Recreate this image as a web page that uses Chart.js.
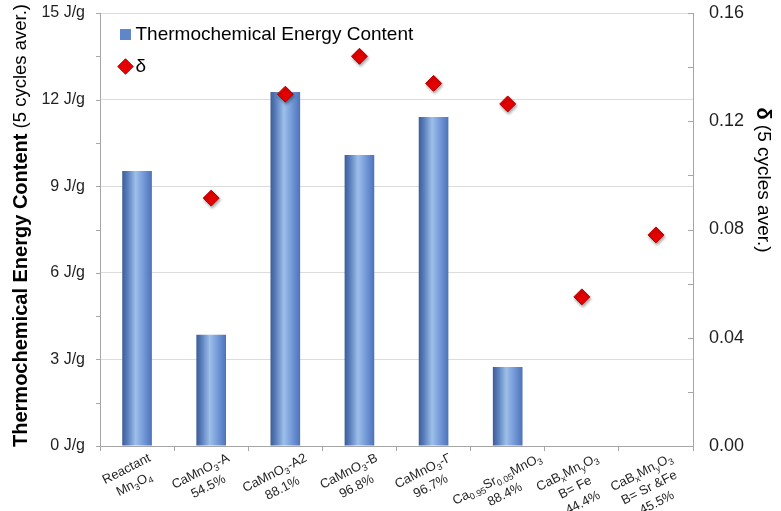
<!DOCTYPE html>
<html>
<head>
<meta charset="utf-8">
<script src="https://cdn.jsdelivr.net/npm/chart.js@4.4.1/dist/chart.umd.min.js"></script>
<style>
  html, body { margin: 0; padding: 0; background: #ffffff; }
  #wrap { width: 781px; height: 511px; }
</style>
</head>
<body>
<div id="wrap"><canvas id="chart" width="781" height="511"></canvas></div>
<script>
// Samples (name + conversion); "_{..}" marks a subscript
const categories = [
  ['Reactant', 'Mn_{3}O_{4}'],
  ['CaMnO_{3}-A', '54.5%'],
  ['CaMnO_{3}-A2', '88.1%'],
  ['CaMnO_{3}-B', '96.8%'],
  ['CaMnO_{3}-\u0393', '96.7%'],
  ['Ca_{0.95}Sr_{0.05}MnO_{3}', '88.4%'],
  ['CaB_{x}Mn_{y}O_{3}', 'B= Fe', '44.4%'],
  ['CaB_{x}Mn_{y}O_{3}', 'B= Sr &Fe', '45.5%']
];
// Thermochemical energy content, J/g (5 cycles average)
const energyContent = [9.53, 3.85, 12.26, 10.08, 11.40, 2.74, null, null];
// Oxygen non-stoichiometry delta (5 cycles average)
const deltaValues = [null, 0.0916, 0.130, 0.144, 0.134, 0.1264, 0.0551, 0.078];
const energyTicks = [0, 3, 6, 9, 12, 15];
const deltaTicks = [0, 0.04, 0.08, 0.12, 0.16];

const FONT = 'Arial, "Liberation Sans", Helvetica, sans-serif';
const AXIS_GRAY = '#a6a6a6';
const TEXT = '#1f1f1f';
const BAR_PCT = 0.4;

// cylinder-like horizontal shading for each column
function barFill(ctx) {
  const chart = ctx.chart;
  const xs = chart.scales.x;
  if (!chart.chartArea || !xs || ctx.type !== 'data') return '#5b80c0';
  const cx = xs.getPixelForValue(ctx.dataIndex);
  const half = (xs.width / categories.length) * BAR_PCT / 2;
  const g = chart.ctx.createLinearGradient(cx - half, 0, cx + half, 0);
  g.addColorStop(0, '#3c5c96');
  g.addColorStop(0.18, '#5a7fbd');
  g.addColorStop(0.45, '#9dbfe9');
  g.addColorStop(0.75, '#6f95d5');
  g.addColorStop(1, '#4d72b9');
  return g;
}

// soft drop shadow under the delta diamonds
const markerShadow = {
  id: 'markerShadow',
  beforeDatasetDraw(chart, args) {
    if (args.index !== 1) return;
    const c = chart.ctx;
    c.save();
    c.shadowColor = 'rgba(0,0,0,0.35)';
    c.shadowBlur = 3;
    c.shadowOffsetX = 1;
    c.shadowOffsetY = 2;
  },
  afterDatasetDraw(chart, args) {
    if (args.index !== 1) return;
    chart.ctx.restore();
  }
};

// small major/minor tick marks on both value axes
const valueAxisTicks = {
  id: 'valueAxisTicks',
  afterDraw(chart) {
    const c = chart.ctx;
    const y = chart.scales.y, y1 = chart.scales.y1;
    c.save();
    c.strokeStyle = AXIS_GRAY;
    c.lineWidth = 1;
    c.beginPath();
    for (let v = 0; v <= 15.0001; v += 1.5) {
      const py = Math.round(y.getPixelForValue(v)) + 0.5;
      c.moveTo(y.right - 4, py);
      c.lineTo(y.right, py);
    }
    for (let v = 0; v <= 0.16001; v += 0.02) {
      const py = Math.round(y1.getPixelForValue(v)) + 0.5;
      c.moveTo(y1.left - 5, py);
      c.lineTo(y1.left, py);
    }
    c.stroke();
    c.restore();
  }
};

// rich text: plain runs and "_{..}" subscript runs
const LABEL_SIZE = 13, SUB_SIZE = 9, LINE_H = 17;
function richRuns(s) {
  const runs = [];
  const re = /_\{([^}]*)\}/g;
  let last = 0, m;
  while ((m = re.exec(s))) {
    if (m.index > last) runs.push({ t: s.slice(last, m.index), sub: false });
    runs.push({ t: m[1], sub: true });
    last = re.lastIndex;
  }
  if (last < s.length) runs.push({ t: s.slice(last), sub: false });
  return runs;
}
function richWidth(c, s) {
  let w = 0;
  richRuns(s).forEach(r => {
    c.font = (r.sub ? SUB_SIZE : LABEL_SIZE) + 'px ' + FONT;
    w += c.measureText(r.t).width;
  });
  return w;
}
function drawRich(c, s, x, baseY) {
  richRuns(s).forEach(r => {
    c.font = (r.sub ? SUB_SIZE : LABEL_SIZE) + 'px ' + FONT;
    c.fillText(r.t, x, baseY + (r.sub ? 3 : 0));
    x += c.measureText(r.t).width;
  });
}

// slanted, centred multi-line category labels hanging below each tick
const categoryLabels = {
  id: 'categoryLabels',
  afterDraw(chart) {
    const c = chart.ctx, xs = chart.scales.x;
    const ang = -27 * Math.PI / 180;
    const cos = Math.cos(ang), sin = Math.abs(Math.sin(ang));
    c.save();
    c.fillStyle = TEXT;
    c.textAlign = 'left';
    c.textBaseline = 'alphabetic';
    chart.data.labels.forEach((lines, i) => {
      const cx = xs.getPixelForValue(i);
      const widths = lines.map(l => richWidth(c, l));
      const W = Math.max(...widths), H = lines.length * LINE_H;
      // half height of the rotated block's bounding box
      const hh = (W / 2) * sin + (H / 2) * cos;
      c.save();
      c.translate(cx - 7, xs.top + 3 + hh);
      c.rotate(ang);
      lines.forEach((l, k) => {
        drawRich(c, l, -widths[k] / 2, -H / 2 + k * LINE_H + LINE_H / 2 + 4.5);
      });
      c.restore();
    });
    c.restore();
  }
};

// axis titles with a bold lead-in followed by regular text
function drawMixedTitle(c, parts, cx, cy, angle) {
  c.save();
  c.translate(cx, cy);
  c.rotate(angle);
  c.textBaseline = 'middle';
  c.textAlign = 'left';
  c.fillStyle = '#000';
  let total = 0;
  const widths = parts.map(p => { c.font = p.font; const w = c.measureText(p.text).width; total += w; return w; });
  let x = -total / 2;
  parts.forEach((p, i) => {
    c.font = p.font;
    c.fillText(p.text, x, 0);
    x += widths[i];
  });
  c.restore();
}

const axisTitles = {
  id: 'axisTitles',
  afterDraw(chart) {
    const c = chart.ctx;
    const a = chart.chartArea;
    drawMixedTitle(c, [
      { text: 'Thermochemical Energy Content', font: 'bold 20px ' + FONT },
      { text: ' (5 cycles aver.)', font: '18.5px ' + FONT }
    ], 21, (a.top + a.bottom) / 2 - 4, -Math.PI / 2);
    drawMixedTitle(c, [
      { text: '\u03b4', font: 'bold 20px ' + FONT },
      { text: ' (5 cycles aver.)', font: '19px ' + FONT }
    ], 763, a.top + 167, Math.PI / 2);
  }
};

// legend sits a little in from the plot's top-left corner
const legendInset = {
  id: 'legendInset',
  afterLayout(chart) {
    if (!chart.legend) return;
    chart.legend.left += 12;
    chart.legend.top += 12;
  }
};

new Chart(document.getElementById('chart'), {
  type: 'bar',
  data: {
    labels: categories,
    datasets: [
      {
        label: 'Thermochemical Energy Content',
        data: energyContent,
        yAxisID: 'y',
        backgroundColor: barFill,
        borderWidth: 0,
        barPercentage: BAR_PCT,
        categoryPercentage: 1,
        pointStyle: 'rect',
        order: 1
      },
      {
        type: 'line',
        label: '\u03b4',
        data: deltaValues,
        yAxisID: 'y1',
        showLine: false,
        pointStyle: 'rectRot',
        pointRadius: 8,
        pointHoverRadius: 8,
        pointBackgroundColor: '#e40000',
        pointBorderColor: '#b80000',
        pointBorderWidth: 1,
        backgroundColor: '#e40000',
        borderColor: '#b80000',
        order: 0
      }
    ]
  },
  options: {
    responsive: false,
    animation: false,
    devicePixelRatio: 1,
    layout: { padding: { top: 13, right: 0, bottom: 0, left: 0 } },
    plugins: {
      tooltip: { enabled: false },
      legend: {
        position: 'chartArea',
        align: 'start',
        labels: {
          usePointStyle: true,
          boxWidth: 1,
          boxHeight: 11,
          padding: 13,
          color: '#000',
          font: { family: FONT, size: 19 },
          sort: (a, b) => a.datasetIndex - b.datasetIndex,
          generateLabels(chart) {
            const items = Chart.defaults.plugins.legend.labels.generateLabels(chart);
            items.forEach(it => {
              if (it.datasetIndex === 0) {
                it.fillStyle = '#5f86c8';
                it.strokeStyle = '#5f86c8';
                it.pointStyle = 'rect';
                it.lineWidth = 0;
              } else {
                it.fillStyle = '#e40000';
                it.strokeStyle = '#b80000';
                it.pointStyle = 'rectRot';
                it.lineWidth = 1;
              }
            });
            return items;
          }
        }
      }
    },
    scales: {
      x: {
        offset: true,
        grid: { offset: true, drawOnChartArea: false, drawTicks: true, tickLength: 5, tickColor: AXIS_GRAY, color: AXIS_GRAY },
        border: { color: AXIS_GRAY },
        ticks: { display: false, autoSkip: false },
        afterFit(s) { s.height = 65; }
      },
      y: {
        position: 'left',
        min: 0,
        max: 15,
        afterBuildTicks(s) { s.ticks = energyTicks.map(v => ({ value: v })); },
        grid: { color: '#dcdcdc', drawTicks: false },
        border: { color: AXIS_GRAY },
        ticks: {
          padding: 15,
          color: TEXT,
          font: { family: FONT, size: 16 },
          callback: v => v + ' J/g'
        },
        afterFit(s) { s.width = 100; s.paddingTop = 0; s.paddingBottom = 0; }
      },
      y1: {
        position: 'right',
        min: 0,
        max: 0.16,
        afterBuildTicks(s) { s.ticks = deltaTicks.map(v => ({ value: v })); },
        grid: { drawOnChartArea: false, drawTicks: false },
        border: { color: AXIS_GRAY },
        ticks: {
          padding: 16,
          color: TEXT,
          font: { family: FONT, size: 18 },
          callback: v => v.toFixed(2)
        },
        afterFit(s) { s.width = 88; s.paddingTop = 0; s.paddingBottom = 0; }
      }
    }
  },
  plugins: [markerShadow, valueAxisTicks, categoryLabels, axisTitles, legendInset]
});
</script>
</body>
</html>
